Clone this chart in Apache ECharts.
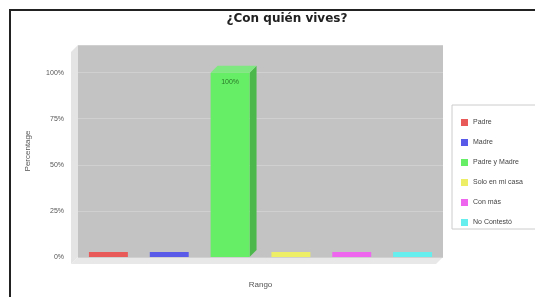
<!DOCTYPE html>
<html>
<head>
<meta charset="utf-8">
<script src="https://cdn.jsdelivr.net/npm/echarts@6/dist/echarts.min.js"></script>
<style>
  html, body { margin: 0; padding: 0; background: #fff; }
  #chart { width: 535px; height: 297px; }
</style>
</head>
<body>
<div id="chart"></div>
<script>
// categorías y valores (porcentaje)
var categorias = ['Padre', 'Madre', 'Padre y Madre', 'Solo en mi casa', 'Con más', 'No Contestó']
var valores = [0, 0, 100, 0, 0, 0]
var colores = ['#e85a5a', '#5a5ae8', '#66ee66', '#eeee66', '#ee66ee', '#66eeee']
var ticksY = [0, 25, 50, 75, 100]

var chartDom = document.getElementById('chart')
var myChart = echarts.init(chartDom)

var anchoBarra = 0.64

// una serie por categoría para que salga la leyenda
var series = categorias.map(function (nombre, i) {
  var data = categorias.map(function (c, j) { return j === i ? valores[i] : '-' })
  return {
    name: nombre,
    type: 'bar',
    stack: 'total',
    barWidth: (anchoBarra * 100) + '%',
    barMinHeight: 5,
    itemStyle: { color: colores[i] },
    label: {
      show: valores[i] > 0,
      position: 'insideTop',
      distance: 6,
      formatter: '{c}%',
      fontSize: 7,
      color: '#2a7a2a'
    },
    data: data
  }
})

// lado derecho sombreado y tapa (efecto 3D)
series.push({
  type: 'custom',
  silent: true,
  z: 1,
  renderItem: function (params, api) {
    var v = api.value(1)
    if (!v) return
    var top = api.coord([api.value(0), v])
    var base = api.coord([api.value(0), 0])
    var w = api.size([1, 0])[0] * anchoBarra
    var x1 = top[0] + w / 2
    var d = 7
    return {
      type: 'group',
      children: [{
        type: 'polygon',
        shape: { points: [[x1, top[1]], [x1 + d, top[1] - d], [x1 + d, base[1] - d], [x1, base[1]]] },
        style: { fill: '#4cb84c' }
      }, {
        type: 'polygon',
        shape: { points: [[x1 - w, top[1]], [x1 - w + d, top[1] - d], [x1 + d, top[1] - d], [x1, top[1]]] },
        style: { fill: '#80e880' }
      }]
    }
  },
  data: valores.map(function (v, i) { return [i, v] })
})

var option = {
  animation: false,
  title: {
    text: '¿Con quién vives?',
    left: 282,
    textAlign: 'center',
    top: 8,
    textStyle: { fontSize: 12, fontWeight: 'bold', color: '#222', fontFamily: 'DejaVu Sans' }
  },
  graphic: [
    // marco exterior
    { type: 'rect', shape: { x: 10, y: 10, width: 600, height: 400 }, style: { fill: 'none', stroke: '#222', lineWidth: 2 }, z: -10 },
    // pared izquierda y piso (3D)
    { type: 'polygon', shape: { points: [[71, 52], [78, 45], [78, 257], [71, 264]] }, style: { fill: '#e4e4e4' }, z: -5 },
    { type: 'polygon', shape: { points: [[71, 264], [78, 257], [443, 257], [436, 264]] }, style: { fill: '#e8e8e8' }, z: -5 },
    // caja de la leyenda
    { type: 'rect', shape: { x: 452, y: 105, width: 90, height: 124 }, style: { fill: '#fff', stroke: '#ccc', lineWidth: 1 }, z: -1 }
  ],
  legend: {
    orient: 'vertical',
    left: 456,
    top: 114,
    itemWidth: 7,
    itemHeight: 7,
    itemGap: 13,
    icon: 'rect',
    textStyle: { fontSize: 7, color: '#444' },
    data: categorias
  },
  grid: {
    left: 78,
    right: 92,
    top: 45,
    bottom: 40,
    show: true,
    backgroundColor: '#c3c3c3',
    borderWidth: 0
  },
  xAxis: {
    type: 'category',
    data: categorias,
    name: 'Rango',
    nameLocation: 'middle',
    nameGap: 24,
    nameTextStyle: { fontSize: 8, color: '#555' },
    axisLabel: { show: false },
    axisTick: { show: false },
    axisLine: { show: false }
  },
  yAxis: {
    type: 'value',
    min: 0,
    max: 115,
    interval: 25,
    name: 'Percentage',
    nameLocation: 'middle',
    nameGap: 46,
    nameTextStyle: { fontSize: 8, color: '#555' },
    axisLabel: {
      fontSize: 7,
      color: '#555',
      margin: 14,
      formatter: function (v) { return ticksY.indexOf(v) >= 0 ? v + '%' : '' }
    },
    axisTick: { show: false },
    axisLine: { show: false },
    splitLine: { lineStyle: { color: '#d0d0d0', width: 1 } }
  },
  series: series
}
myChart.setOption(option)
</script>
</body>
</html>
